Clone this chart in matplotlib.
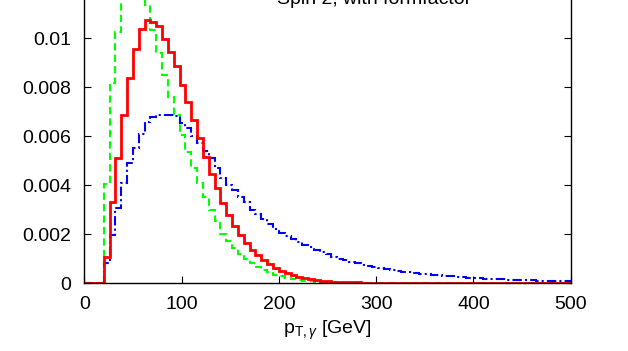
import numpy as np
import matplotlib
matplotlib.use("Agg")
import matplotlib.pyplot as plt

plt.rcParams['font.family'] = ['Liberation Sans', 'DejaVu Sans']
plt.rcParams['mathtext.fontset'] = 'custom'
plt.rcParams['mathtext.rm'] = 'Liberation Sans'
plt.rcParams['mathtext.it'] = 'Liberation Sans:italic'

# histogram binning: empty bin below the 20 GeV cut, then 6 GeV bins up to 500
edges = np.concatenate([[0], np.arange(20, 501, 6)])

red_vals = [0.0,
    0.00107, 0.0033, 0.0051, 0.00686, 0.00838, 0.00954, 0.01035, 0.01075, 0.01065, 0.0105,
    0.00995, 0.00944, 0.00886, 0.00808, 0.0074, 0.00667, 0.0059, 0.00516, 0.00445, 0.00387,
    0.00325, 0.00278, 0.00233, 0.00196, 0.00162, 0.00135, 0.00114, 0.00095, 0.00077, 0.00062,
    0.0005, 0.0004, 0.00031, 0.00024, 0.00019, 0.00015, 0.00012, 0.0001, 0.00008, 0.00006,
    0.00005, 0.00004, 0.00003, 0.00003, 0.00002, 0.00002, 0.00002, 0.00001, 0.00001, 0.00001,
    0.00001, 0.00001, 0.00001, 0.00001, 0.00001, 0.0, 0.0, 0.0, 0.0, 0.0,
    0.0, 0.0, 0.0, 0.0, 0.0, 0.0, 0.0, 0.0, 0.0, 0.0,
    0.0, 0.0, 0.0, 0.0, 0.0, 0.0, 0.0, 0.0, 0.0, 0.0]

green_vals = [0.0,
    0.00403, 0.00818, 0.01023, 0.0116, 0.0122, 0.0122, 0.0117, 0.01135, 0.01033, 0.00938,
    0.00849, 0.00759, 0.00686, 0.00604, 0.00536, 0.00469, 0.00407, 0.00352, 0.003, 0.00252,
    0.002, 0.00172, 0.00142, 0.00119, 0.00099, 0.0008, 0.00067, 0.00054, 0.00043, 0.00034,
    0.00027, 0.0002, 0.00016, 0.00012, 0.0001, 0.00008, 0.00006, 0.00005, 0.00004, 0.00003,
    0.00002, 0.00002, 0.00001, 0.00001, 0.00001, 0.00001, 0.00001, 0.00001, 0.0, 0.0,
    0.0, 0.0, 0.0, 0.0, 0.0, 0.0, 0.0, 0.0, 0.0, 0.0,
    0.0, 0.0, 0.0, 0.0, 0.0, 0.0, 0.0, 0.0, 0.0, 0.0,
    0.0, 0.0, 0.0, 0.0, 0.0, 0.0, 0.0, 0.0, 0.0, 0.0]

blue_vals = [0.0,
    0.0008, 0.00196, 0.00305, 0.00407, 0.00489, 0.00553, 0.00608, 0.00658, 0.00679, 0.00686,
    0.00686, 0.00686, 0.00682, 0.00652, 0.00631, 0.00602, 0.00572, 0.0054, 0.0051, 0.0047,
    0.0043, 0.004, 0.0038, 0.0035, 0.0033, 0.003, 0.0028, 0.0026, 0.0024, 0.0022,
    0.00205, 0.0019, 0.00178, 0.00166, 0.00155, 0.00145, 0.00135, 0.00126, 0.00117, 0.00108,
    0.001, 0.00093, 0.00086, 0.0008, 0.00074, 0.00069, 0.00064, 0.0006, 0.00056, 0.00052,
    0.00049, 0.00046, 0.00043, 0.0004, 0.00037, 0.00035, 0.00033, 0.00031, 0.00029, 0.00027,
    0.00025, 0.00023, 0.00022, 0.0002, 0.00019, 0.00018, 0.00017, 0.00016, 0.00015, 0.00014,
    0.00013, 0.00012, 0.00012, 0.00011, 0.0001, 0.0001, 0.00009, 0.00009, 0.00008, 0.00008]

xticks = [0, 100, 200, 300, 400, 500]
yticks = [0, 0.002, 0.004, 0.006, 0.008, 0.01]
ytick_labels = ['0', '0.002', '0.004', '0.006', '0.008', '0.01']

fig = plt.figure(figsize=(6.28, 3.51), dpi=100)
# top of the frame lies above the picture (the original was cropped)
ax = fig.add_axes([0.1342, 0.1937, 0.7745, 0.8376])

ax.stairs(green_vals, edges, baseline=None, color='#00ff00', lw=1.5,
          linestyle=(0, (3.5, 2)))
ax.stairs(blue_vals, edges, baseline=None, color='#0000ff', lw=1.5,
          linestyle=(0, (4.5, 1.5, 1, 1.5)))
ax.stairs(red_vals, edges, baseline=None, color='#ff0000', lw=2.0)

ax.set_xlim(0, 500)
ax.set_ylim(0, 0.012)
ax.set_xticks(xticks)
ax.set_yticks(yticks)
ax.set_yticklabels(ytick_labels)
ax.tick_params(direction='in', length=5, width=0.8, labelsize=14, pad=9.5,
               top=True, right=True)
for s in ax.spines.values():
    s.set_linewidth(1.0)

ax.set_xlabel(r'p$_{\mathrm{T},\gamma}$ [GeV]', fontsize=14, labelpad=4)

# key text sits at the cropped top edge, as in the original
fig.text(0.4406, 1 - 4 / 351, 'Spin 2, with formfactor', fontsize=14,
         ha='left', va='baseline')

fig.savefig('out.png', dpi=100)
